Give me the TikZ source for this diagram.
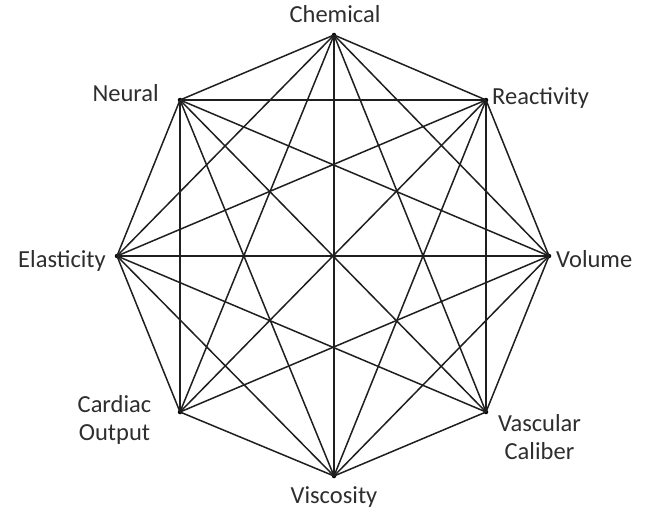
\documentclass[tikz,border=0pt]{standalone}
\usepackage{fontspec}
\setmainfont{Carlito}
\begin{document}
\begin{tikzpicture}[x=1pt,y=-1pt,
  vtx/.style={circle,fill=black,inner sep=0pt,minimum size=4.5pt},
  edge/.style={draw=black!88,line width=1.5pt},
  lbl/.style={inner sep=0pt,text=black!82,font=\fontsize{24.5}{28}\selectfont}]
\useasboundingbox (0,0) rectangle (648,511);
\node[vtx] (ch) at (334,35) {};
\node[vtx] (re) at (486,100) {};
\node[vtx] (vo) at (549,256) {};
\node[vtx] (va) at (486,412) {};
\node[vtx] (vi) at (334,476) {};
\node[vtx] (ca) at (180,412) {};
\node[vtx] (el) at (117,256) {};
\node[vtx] (ne) at (180,100) {};
\foreach \a/\b in {ch/re,ch/vo,ch/va,ch/vi,ch/ca,ch/el,ch/ne,
  re/vo,re/va,re/vi,re/ca,re/el,re/ne,
  vo/va,vo/vi,vo/ca,vo/el,vo/ne,
  va/vi,va/el,va/ne,
  vi/ca,vi/el,vi/ne,
  ca/el,ca/ne,
  el/ne}
  \draw[edge] (\a.center) -- (\b.center);
\node[lbl,anchor=base] (tch) at (335,23) {Chemical};
\node[lbl,anchor=base east] (tne) at (159,101) {Neural};
\node[lbl,anchor=base west] (tre) at (492,104) {Reactivity};
\node[lbl,anchor=base east] (tel) at (106,267) {Elasticity};
\node[lbl,anchor=base west] (tvo) at (556,267) {Volume};
\node[lbl,align=center] (tca) at (114.5,420) {Cardiac\\Output};
\node[lbl,align=center] (tva) at (539.5,437) {Vascular\\Caliber};
\node[lbl,anchor=base] (tvi) at (334,503) {Viscosity};
\end{tikzpicture}
\end{document}
